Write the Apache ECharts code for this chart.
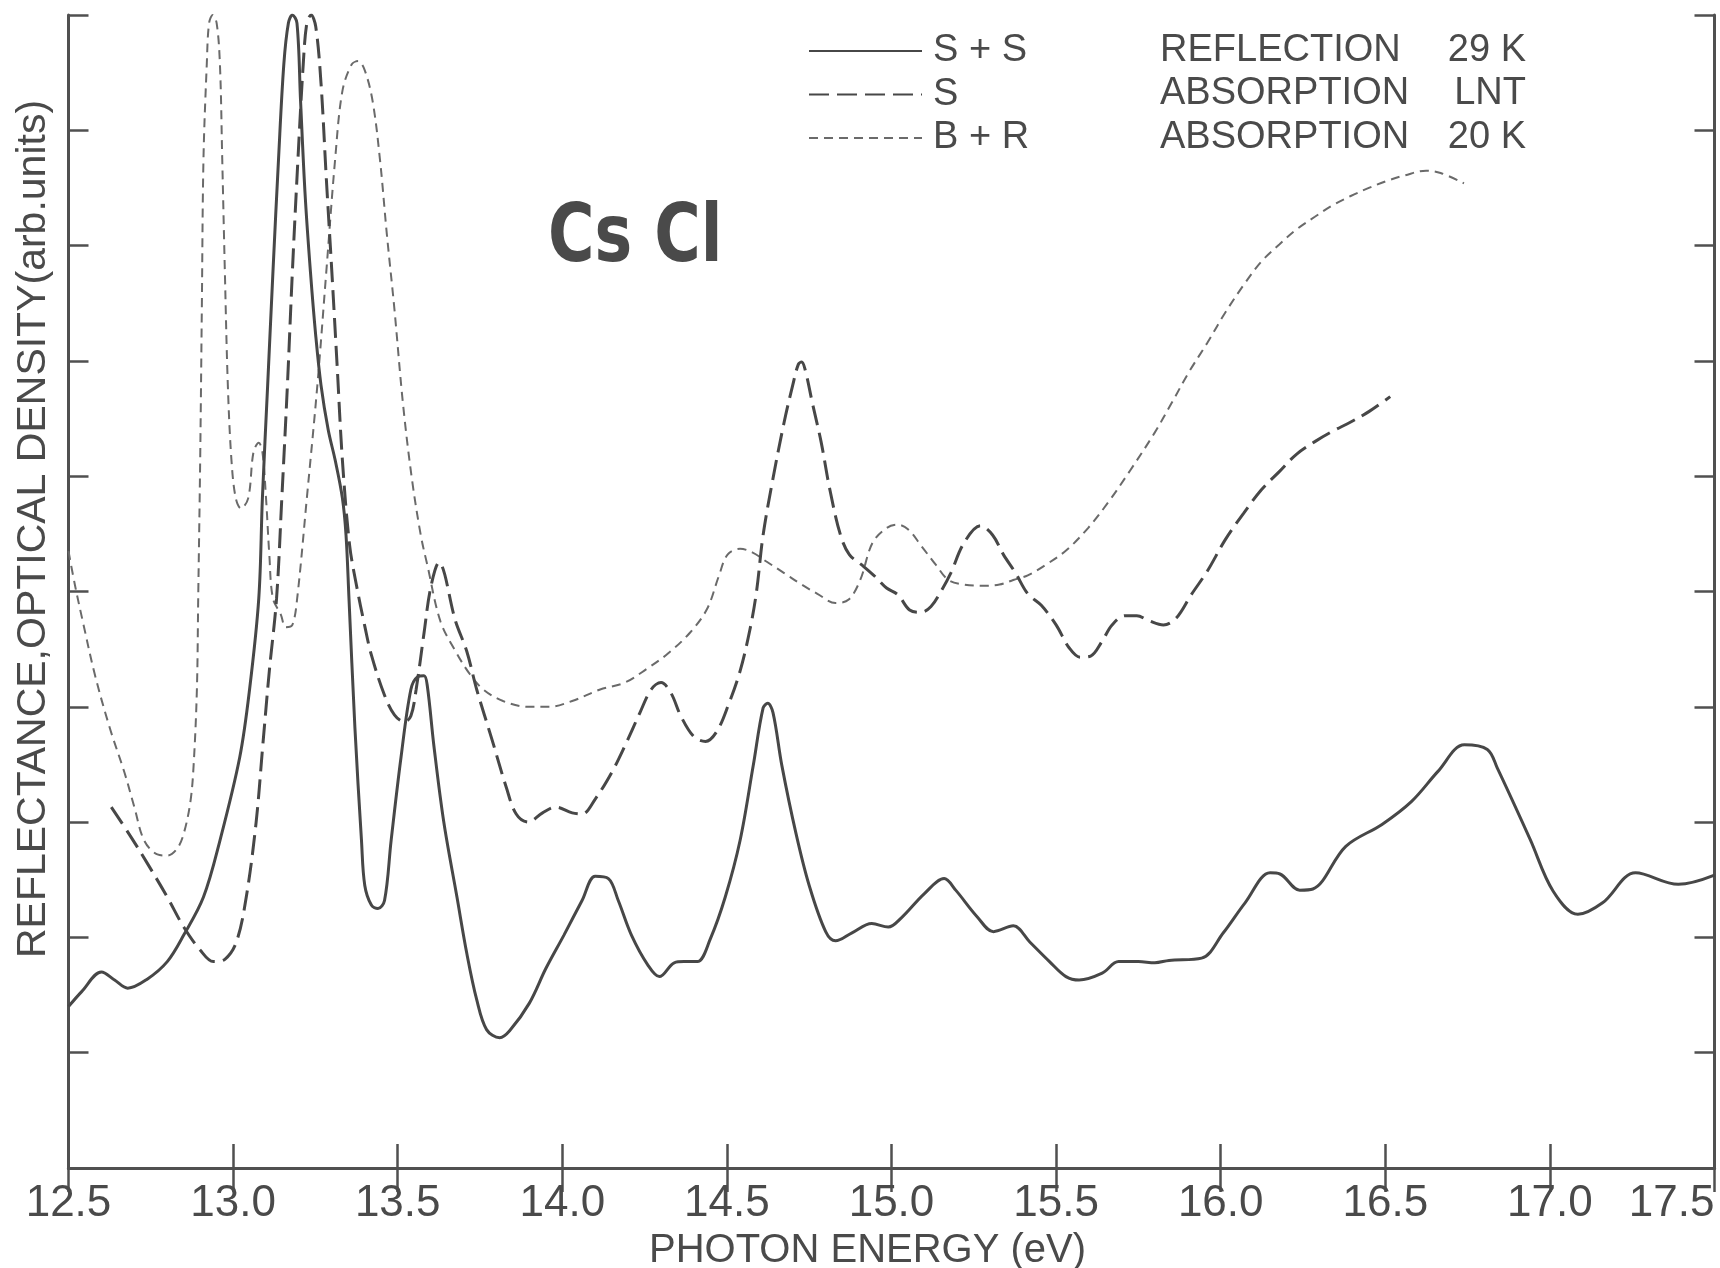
<!DOCTYPE html>
<html>
<head>
<meta charset="utf-8">
<script src="https://cdn.jsdelivr.net/npm/echarts@6/dist/echarts.min.js"></script>
<style>
html,body{margin:0;padding:0;background:#ffffff;}
#chart{width:1720px;height:1268px;}
</style>
</head>
<body>
<div id="chart"></div>
<script>
// ---- Data ----
const xTicks = [12.5, 13.0, 13.5, 14.0, 14.5, 15.0, 15.5, 16.0, 16.5, 17.0, 17.5];

// S + S : reflection, 29 K (solid)
const ssX = [12.50,12.54,12.60,12.64,12.68,12.74,12.80,12.85,12.91,12.96,13.02,13.05,13.078,13.089,13.105,13.121,13.138,13.154,13.168,13.18,13.194,13.205,13.219,13.235,13.251,13.267,13.289,13.31,13.332,13.343,13.352,13.37,13.39,13.40,13.42,13.44,13.46,13.48,13.51,13.54,13.56,13.58,13.59,13.61,13.64,13.68,13.71,13.74,13.77,13.81,13.84,13.90,13.95,14.005,14.06,14.10,14.14,14.17,14.21,14.26,14.295,14.34,14.37,14.41,14.45,14.495,14.54,14.58,14.61,14.624,14.64,14.667,14.71,14.75,14.80,14.83,14.88,14.94,14.99,15.03,15.10,15.16,15.195,15.26,15.31,15.37,15.42,15.48,15.53,15.57,15.64,15.69,15.75,15.80,15.843,15.942,16.008,16.074,16.15,16.18,16.24,16.28,16.38,16.49,16.58,16.66,16.74,16.81,16.84,16.94,17.01,17.085,17.16,17.26,17.39,17.50];
const ssY = [1.40,1.53,1.70,1.63,1.56,1.64,1.79,2.02,2.35,2.84,3.56,4.15,4.94,5.81,6.79,7.77,8.75,9.57,9.93,10.0,9.93,9.25,8.43,7.77,7.22,6.79,6.40,6.14,5.81,5.49,4.94,3.82,2.84,2.45,2.28,2.25,2.32,2.84,3.56,4.15,4.26,4.27,4.18,3.66,3.00,2.35,1.86,1.46,1.20,1.13,1.19,1.43,1.73,2.02,2.32,2.53,2.51,2.32,2.02,1.76,1.66,1.78,1.79,1.79,1.99,2.35,2.84,3.49,3.99,4.03,3.95,3.49,2.90,2.45,2.05,1.97,2.04,2.12,2.09,2.17,2.38,2.51,2.41,2.18,2.05,2.10,1.96,1.79,1.66,1.63,1.69,1.79,1.79,1.78,1.80,1.82,2.04,2.30,2.56,2.55,2.41,2.42,2.79,2.98,3.18,3.44,3.67,3.63,3.47,2.85,2.40,2.20,2.30,2.56,2.46,2.54];

// S : absorption, LNT (long dashes)
const sX = [12.63,12.69,12.74,12.80,12.85,12.90,12.94,12.975,13.01,13.04,13.07,13.09,13.11,13.132,13.148,13.165,13.18,13.197,13.213,13.224,13.237,13.251,13.267,13.283,13.30,13.316,13.332,13.354,13.375,13.40,13.42,13.46,13.49,13.52,13.54,13.556,13.58,13.60,13.625,13.676,13.71,13.74,13.786,13.83,13.86,13.896,13.94,13.98,14.03,14.06,14.10,14.15,14.19,14.236,14.27,14.30,14.33,14.36,14.40,14.435,14.47,14.505,14.54,14.57,14.59,14.61,14.64,14.674,14.70,14.717,14.727,14.738,14.76,14.786,14.813,14.845,14.872,14.91,14.95,14.985,15.02,15.055,15.09,15.12,15.15,15.18,15.22,15.27,15.307,15.34,15.377,15.414,15.455,15.50,15.54,15.573,15.605,15.64,15.67,15.71,15.745,15.78,15.826,15.865,15.91,15.96,16.014,16.07,16.123,16.178,16.23,16.286,16.34,16.395,16.45,16.515];
const sY = [3.13,2.87,2.64,2.35,2.09,1.89,1.79,1.81,1.96,2.35,3.00,3.66,4.31,4.94,5.81,6.79,7.77,8.75,9.57,9.93,10.0,9.90,9.41,8.59,7.77,6.96,6.14,5.40,5.05,4.70,4.45,4.10,3.93,3.87,3.92,4.15,4.64,5.03,5.25,4.74,4.48,4.15,3.72,3.30,3.07,3.00,3.08,3.13,3.08,3.07,3.20,3.43,3.66,3.95,4.15,4.21,4.12,3.92,3.74,3.70,3.79,4.02,4.31,4.67,5.00,5.49,5.98,6.47,6.79,6.97,6.99,6.92,6.63,6.30,5.88,5.49,5.32,5.23,5.13,5.03,4.97,4.84,4.82,4.87,5.00,5.16,5.42,5.57,5.49,5.32,5.16,4.98,4.88,4.71,4.51,4.43,4.44,4.57,4.71,4.79,4.79,4.75,4.71,4.77,4.97,5.18,5.45,5.68,5.88,6.04,6.19,6.30,6.39,6.47,6.56,6.69];

// B + R : absorption, 20 K (short dashes)
const brX = [12.50,12.52,12.545,12.58,12.625,12.67,12.70,12.73,12.77,12.80,12.83,12.85,12.87,12.88,12.89,12.894,12.90,12.905,12.91,12.92,12.927,12.938,12.95,12.96,12.967,12.975,12.984,12.995,13.008,13.024,13.046,13.062,13.078,13.089,13.10,13.11,13.121,13.145,13.16,13.18,13.195,13.224,13.256,13.283,13.31,13.332,13.36,13.38,13.40,13.424,13.446,13.467,13.49,13.516,13.543,13.57,13.59,13.63,13.676,13.72,13.76,13.82,13.896,13.96,14.03,14.115,14.19,14.257,14.32,14.387,14.44,14.475,14.502,14.54,14.577,14.62,14.674,14.727,14.775,14.83,14.87,14.905,14.942,14.985,15.017,15.05,15.092,15.135,15.173,15.22,15.275,15.328,15.37,15.414,15.468,15.532,15.597,15.66,15.725,15.80,15.85,15.905,15.96,16.014,16.07,16.123,16.178,16.23,16.286,16.34,16.395,16.45,16.504,16.56,16.624,16.668,16.739];
const brY = [5.35,5.05,4.72,4.28,3.82,3.43,3.13,2.84,2.72,2.71,2.77,2.90,3.17,3.49,4.15,4.94,6.14,7.45,8.75,9.57,9.93,10.0,9.93,9.57,8.75,7.77,6.79,6.14,5.81,5.72,5.81,6.21,6.29,6.21,5.81,5.32,4.94,4.80,4.69,4.71,4.95,5.81,6.79,7.77,8.75,9.34,9.57,9.60,9.52,9.25,8.75,8.10,7.45,6.63,5.98,5.49,5.23,4.74,4.48,4.28,4.15,4.05,4.00,4.00,4.05,4.15,4.21,4.33,4.46,4.64,4.85,5.13,5.32,5.37,5.34,5.26,5.16,5.06,4.98,4.90,4.93,5.10,5.42,5.55,5.58,5.54,5.39,5.23,5.10,5.06,5.05,5.06,5.10,5.14,5.23,5.36,5.55,5.78,6.05,6.38,6.63,6.91,7.16,7.42,7.66,7.86,8.01,8.14,8.25,8.35,8.43,8.50,8.56,8.61,8.65,8.63,8.54];

const seriesNames = ['S + S', 'S', 'B + R'];
const legendNotes = [['REFLECTION', '29 K'], ['ABSORPTION', 'LNT'], ['ABSORPTION', '20 K']];
const sampleName = 'Cs Cl';
const xName = 'PHOTON ENERGY (eV)';
const yName = 'REFLECTANCE,OPTICAL DENSITY(arb.units)';

// ---- Chart ----
const FONT = '"Liberation Sans", Arial, sans-serif';
const INK = '#4a4a4a';
const LINE = '#474747';
const zip = (xs, ys) => xs.map((x, i) => [x, ys[i]]);

const chart = echarts.init(document.getElementById('chart'), null, {renderer: 'canvas'});

const frameAxisLine = {show: true, lineStyle: {color: '#505050', width: 3}};
const xCommon = {
  type: 'value', min: 12.5, max: 17.5, interval: 0.5,
  axisLine: frameAxisLine,
  axisTick: {show: true, inside: true, length: 24, lineStyle: {color: '#505050', width: 2.5}},
  splitLine: {show: false}
};
const yCommon = {
  type: 'value', min: 0, max: 10, interval: 1,
  axisLine: frameAxisLine,
  axisTick: {show: true, inside: true, length: 20, lineStyle: {color: '#505050', width: 2.5}},
  axisLabel: {show: false},
  splitLine: {show: false}
};

const noteGraphics = [];
const rowY = [51, 94, 138];
legendNotes.forEach((n, i) => {
  noteGraphics.push({type: 'text', x: 1160, y: rowY[i], style: {text: n[0], font: '38px ' + FONT, fill: INK, textVerticalAlign: 'middle', textAlign: 'left'}});
  noteGraphics.push({type: 'text', x: 1526, y: rowY[i], style: {text: n[1], font: '38px ' + FONT, fill: INK, textVerticalAlign: 'middle', textAlign: 'right'}});
});
noteGraphics.push({type: 'text', x: 548, y: 240, scaleX: 0.88, style: {text: sampleName, font: 'bold 80px "Liberation Sans Narrow", "DejaVu Sans Condensed", sans-serif', fill: INK, textVerticalAlign: 'middle', textAlign: 'left'}});

const option = {
  backgroundColor: '#ffffff',
  animation: false,
  grid: {left: 68.5, right: 5.5, top: 15, bottom: 100, containLabel: false, outerBoundsMode: 'none'},
  xAxis: [
    Object.assign({}, xCommon, {
      position: 'bottom',
      axisLabel: {show: true, fontSize: 44, fontFamily: FONT, color: INK, margin: 14,
        formatter: v => v.toFixed(1), alignMaxLabel: 'right'},
      name: xName, nameLocation: 'middle', nameGap: 55,
      nameTextStyle: {fontSize: 40, fontFamily: FONT, color: INK, padding: [0, 48, 0, 0]}
    }),
    Object.assign({}, xCommon, {position: 'top', axisLabel: {show: false}})
  ],
  yAxis: [
    Object.assign({}, yCommon, {
      position: 'left',
      name: yName, nameLocation: 'middle', nameGap: 14,
      nameTextStyle: {fontSize: 41, fontFamily: FONT, color: INK, padding: [0, 0, 0, 125]}
    }),
    Object.assign({}, yCommon, {position: 'right'})
  ],
  legend: {
    show: true, orient: 'vertical', left: 808, top: 31, padding: 0,
    itemWidth: 113, itemHeight: 14, itemGap: 3.5,
    itemStyle: {opacity: 0},
    textStyle: {fontSize: 38, fontFamily: FONT, color: INK, lineHeight: 40, padding: [0, 0, 0, 6]},
    data: seriesNames
  },
  graphic: noteGraphics,
  series: [
    {name: seriesNames[0], type: 'line', data: zip(ssX, ssY), showSymbol: false, symbol: 'none', smooth: 0.35,
      clip: true, lineStyle: {color: LINE, width: 3, type: 'solid'}, itemStyle: {color: LINE}, z: 3},
    {name: seriesNames[1], type: 'line', data: zip(sX, sY), showSymbol: false, symbol: 'none', smooth: 0.35,
      clip: true, lineStyle: {color: LINE, width: 3, type: [20, 8]}, itemStyle: {color: LINE}, z: 2},
    {name: seriesNames[2], type: 'line', data: zip(brX, brY), showSymbol: false, symbol: 'none', smooth: 0.35,
      clip: true, lineStyle: {color: '#6a6a6a', width: 2, type: [9, 6]}, itemStyle: {color: '#6a6a6a'}, z: 1}
  ]
};
chart.setOption(option);
</script>
</body>
</html>
